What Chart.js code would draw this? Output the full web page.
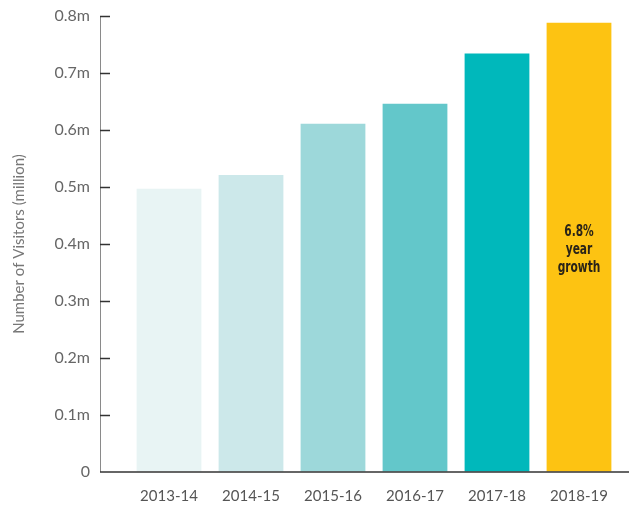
<script src="https://cdn.jsdelivr.net/npm/chart.js@4/dist/chart.umd.min.js"></script>
<body style="margin:0;background:#fff">
<canvas id="visitors" width="629" height="510"></canvas>
<script>
// visitor numbers (million)
var years = ["2013-14", "2014-15", "2015-16", "2016-17", "2017-18", "2018-19"];
var visitors = [0.497, 0.521, 0.611, 0.646, 0.734, 0.788];
var barColours = ["#e8f4f4", "#cce8ea", "#9dd8da", "#63c7ca", "#00b8bb", "#fdc312"];
var yTicks = [0, 0.1, 0.2, 0.3, 0.4, 0.5, 0.6, 0.7, 0.8];
var noteBar = 5;
var noteLines = ["6.8%", "year", "growth"];

var axisGap = 28; // y axis line sits left of the first category

var axesPlugin = {
    id: "axesPlugin",
    afterDatasetsDraw: function(chart) {
        var ctx = chart.ctx;
        var y = chart.scales.y;
        var left = chart.chartArea.left - axisGap;
        var zero = y.getPixelForValue(0);
        ctx.save();
        // y axis line + inward ticks
        ctx.strokeStyle = "#8a8a8a";
        ctx.lineWidth = 1;
        ctx.beginPath();
        ctx.moveTo(left + 0.5, y.getPixelForValue(yTicks[yTicks.length - 1]));
        ctx.lineTo(left + 0.5, zero);
        ctx.stroke();
        ctx.strokeStyle = "#333";
        ctx.lineWidth = 1.5;
        yTicks.forEach(function(v) {
            if (v === 0) return;
            var py = Math.round(y.getPixelForValue(v)) + 0.5;
            ctx.beginPath();
            ctx.moveTo(left, py);
            ctx.lineTo(left + 10, py);
            ctx.stroke();
        });
        // baseline
        ctx.beginPath();
        ctx.moveTo(left, zero);
        ctx.lineTo(chart.width, zero);
        ctx.stroke();

        // note inside the last bar (narrow bold type)
        var bar = chart.getDatasetMeta(0).data[noteBar];
        var mid = (bar.y + bar.base) / 2 + 3;
        ctx.fillStyle = "#2a2418";
        ctx.font = "bold 16px 'DejaVu Sans Condensed', 'DejaVu Sans', sans-serif";
        ctx.textAlign = "center";
        ctx.textBaseline = "middle";
        ctx.translate(bar.x, 0);
        ctx.scale(0.74, 1);
        noteLines.forEach(function(t, i) {
            ctx.fillText(t, 0, mid + (i - 1) * 18);
        });
        ctx.restore();
    }
};

new Chart(document.getElementById("visitors").getContext("2d"), {
    type: "bar",
    data: {
        labels: years,
        datasets: [{
            data: visitors,
            backgroundColor: barColours,
            borderWidth: 0,
            barPercentage: 0.79,
            categoryPercentage: 1
        }]
    },
    options: {
        responsive: false,
        animation: false,
        layout: { padding: { top: 16, right: 9, left: 0, bottom: 0 } },
        plugins: { legend: { display: false }, tooltip: { enabled: false } },
        scales: {
            x: {
                grid: { display: false, drawTicks: false },
                border: { display: false },
                ticks: { color: "#555", padding: 15, font: { family: "Lato", size: 15 } },
                afterFit: function(s) { s.height = 38; }
            },
            y: {
                min: 0,
                max: 0.8,
                grid: { display: true, drawOnChartArea: false, drawTicks: true, tickLength: 34, tickColor: "rgba(0,0,0,0)" },
                border: { display: false },
                afterFit: function(s) { s.width = 128; },
                afterBuildTicks: function(s) { s.ticks = yTicks.map(function(v) { return { value: v }; }); },
                ticks: {
                    color: "#666",
                    padding: 4,
                    font: { family: "Lato", size: 16 },
                    callback: function(v) { return v === 0 ? "0" : v.toFixed(1) + "m"; }
                },
                title: {
                    display: true,
                    text: "Number of Visitors (million)",
                    color: "#777",
                    padding: { top: 10, bottom: 0 },
                    font: { family: "Lato", size: 15 }
                }
            }
        }
    },
    plugins: [axesPlugin]
});
</script>
</body>
